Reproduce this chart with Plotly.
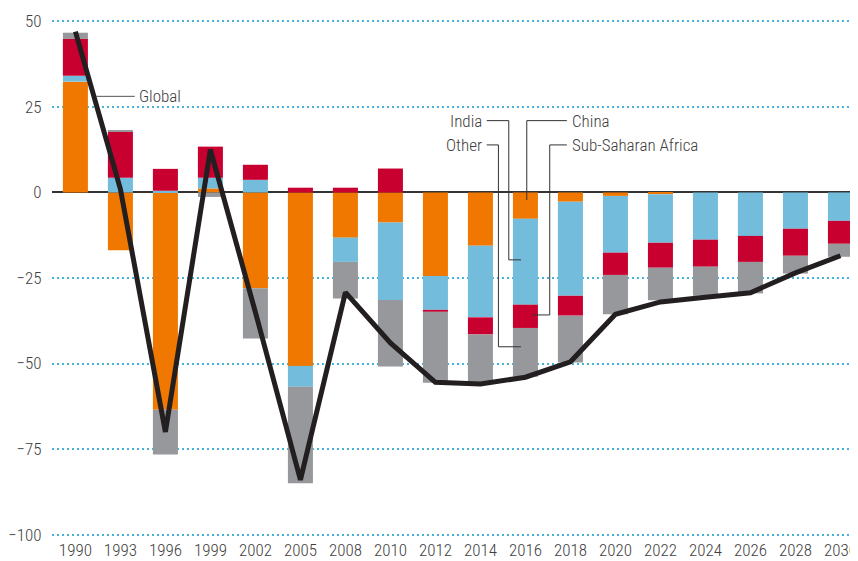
import plotly.graph_objects as go

years = ["1990", "1993", "1996", "1999", "2002", "2005", "2008", "2010", "2012",
         "2014", "2016", "2018", "2020", "2022", "2024", "2026", "2028", "2030"]

china = [32.4, -16.9, -63.5, 1.2, -28.0, -50.7, -13.2, -8.8, -24.4,
         -15.6, -7.7, -2.7, -1.0, -0.5, 0.0, 0.0, 0.0, 0.0]
india = [1.7, 4.3, 0.5, 3.1, 3.7, -6.1, -7.1, -22.6, -9.9,
         -20.9, -25.1, -27.5, -16.6, -14.2, -13.8, -12.7, -10.6, -8.3]
ssa = [10.8, 13.4, 6.4, 9.1, 4.4, 1.4, 1.4, 7.0, -0.6,
       -5.0, -6.8, -5.8, -6.5, -7.3, -7.9, -7.6, -7.9, -6.7]
other = [1.8, 0.3, -13.1, -1.3, -14.7, -28.2, -10.7, -19.5, -20.7,
         -14.5, -14.3, -13.7, -11.5, -9.5, -8.5, -9.2, -5.2, -3.8]
global_total = [47.0, 1.0, -70.0, 12.5, -35.0, -84.0, -29.2, -44.0, -55.5,
                -56.0, -54.0, -49.5, -35.6, -32.0, -30.6, -29.3, -23.5, -18.5]

ytick_vals = [50, 25, 0, -25, -50, -75, -100]
ytick_text = ["50", "25", "0", "\u221225", "\u221250", "\u221275", "\u2212100"]

FONT = "Liberation Sans Narrow, Arial Narrow, Roboto Condensed, Roboto, sans-serif"
TXT = "#404040"

fig = go.Figure()
for name, vals, col in [("China", china, "#f07800"),
                        ("India", india, "#74bcdc"),
                        ("Sub-Saharan Africa", ssa, "#c8002f"),
                        ("Other", other, "#97989c")]:
    fig.add_trace(go.Bar(x=years, y=vals, name=name, marker_color=col,
                         marker_line_width=0, showlegend=False))

fig.add_trace(go.Scatter(x=years, y=global_total, mode="lines", name="Global",
                         line=dict(color="#231f20", width=5), showlegend=False))

# leader lines (category index / data units)
lc = "#333333"
def seg(pts, color=lc, w=1):
    for (x0, y0), (x1, y1) in zip(pts[:-1], pts[1:]):
        fig.add_shape(type="line", xref="x", yref="y", x0=x0, y0=y0, x1=x1, y1=y1,
                      line=dict(color=color, width=w))

seg([(0.46, 28.1), (1.32, 28.1)], color="#555555")
seg([(9.14, 21.0), (9.63, 21.0), (9.63, -19.7), (9.9, -19.7)])
seg([(9.14, 13.9), (9.40, 13.9), (9.40, -45.1), (9.9, -45.1)])
seg([(10.92, 21.0), (10.03, 21.0), (10.03, -2.2)])
seg([(10.92, 13.9), (10.54, 13.9), (10.54, -35.8), (10.15, -35.8)])

def label(text, x, y, anchor):
    fig.add_annotation(x=x, y=y, xref="x", yref="y", text=text, showarrow=False,
                       xanchor=anchor, yanchor="middle",
                       font=dict(family=FONT, size=17, color=TXT, weight=300))

label("Global", 1.36, 28.1, "left")
label("India", 9.08, 21.0, "right")
label("Other", 9.08, 13.9, "right")
label("China", 10.98, 21.0, "left")
label("Sub-Saharan Africa", 10.98, 13.9, "left")

# page body has an 8px margin, so the figure is 850x553 and margins are shifted
fig.update_layout(
    width=850, height=553,
    margin=dict(l=44, r=0, t=10, b=23),
    paper_bgcolor="white", plot_bgcolor="white",
    barmode="relative", bargap=0.444,
    font=dict(family=FONT, size=17, color=TXT, weight=300),
    xaxis=dict(type="category", range=[-0.52, 17.39], showgrid=False,
               showline=False, zeroline=False, ticks="", automargin=False,
               tickfont=dict(size=17, color=TXT, weight=300)),
    yaxis=dict(range=[-101, 51], tickvals=ytick_vals, ticktext=ytick_text,
               showgrid=True, gridcolor="#45b2dc", gridwidth=1.5,
               griddash="2px,3px", zeroline=True, zerolinecolor="#333333",
               zerolinewidth=2, showline=False, ticks="outside", ticklen=6,
               tickcolor="rgba(0,0,0,0)", automargin=False,
               tickfont=dict(size=17, color=TXT, weight=300)),
)

fig.write_html("out.html")
